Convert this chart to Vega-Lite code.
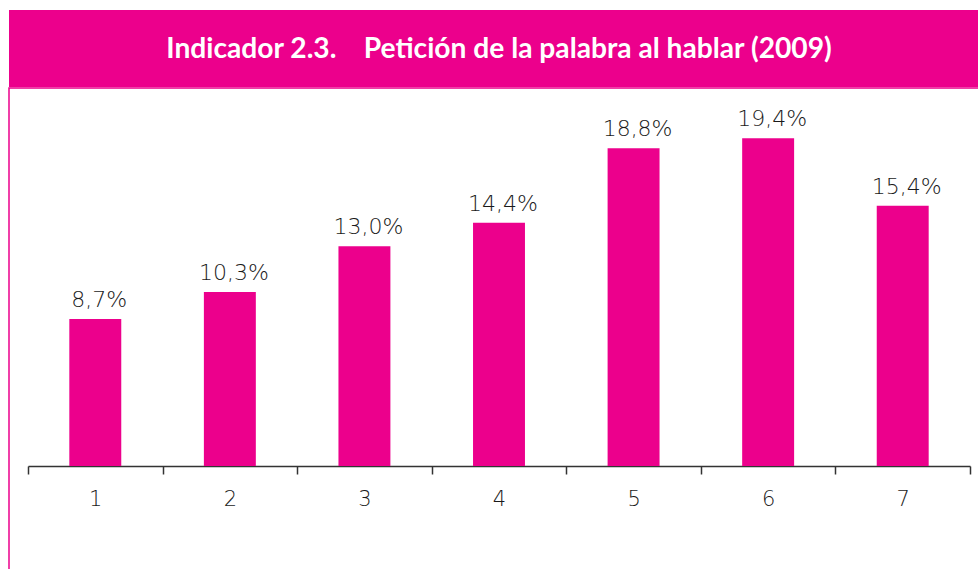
{
  "$schema": "https://vega.github.io/schema/vega-lite/v6.json",
  "padding": {"left": 8, "top": 10, "right": 0, "bottom": 0},
  "background": "white",
  "spacing": 0,
  "config": {"concat": {"spacing": 0}},
  "datasets": {
    "titulo": [{"texto": "Indicador 2.3.\u00a0\u00a0\u00a0 Petición de la palabra al hablar (2009)"}],
    "valores": [
      {"grupo": "1", "valor": 8.7, "etiqueta": "8,7%"},
      {"grupo": "2", "valor": 10.3, "etiqueta": "10,3%"},
      {"grupo": "3", "valor": 13.0, "etiqueta": "13,0%"},
      {"grupo": "4", "valor": 14.4, "etiqueta": "14,4%"},
      {"grupo": "5", "valor": 18.8, "etiqueta": "18,8%"},
      {"grupo": "6", "valor": 19.4, "etiqueta": "19,4%"},
      {"grupo": "7", "valor": 15.4, "etiqueta": "15,4%"}
    ]
  },
  "vconcat": [
    {
      "width": 970,
      "height": 77,
      "view": {"fill": "#EC008C", "stroke": null},
      "data": {"name": "titulo"},
      "mark": {"type": "text", "color": "white", "font": "Lato", "fontWeight": "bold", "fontSize": 28.2, "align": "center", "baseline": "middle", "dx": 5, "dy": 1},
      "encoding": {"text": {"field": "texto"}}
    },
    {
      "width": 970,
      "height": 482,
      "view": {"stroke": "#EC008C", "strokeWidth": 1.5, "fill": null},
      "data": {"name": "valores"},
      "encoding": {
        "x": {
          "field": "grupo",
          "type": "ordinal",
          "scale": {"range": [19, 961], "paddingInner": 0, "paddingOuter": 0},
          "axis": {
            "title": null,
            "orient": "bottom",
            "offset": -104,
            "labelAngle": 0,
            "labelFont": "DejaVu Sans",
            "labelFontWeight": 300,
            "labelFontSize": 21,
            "labelColor": "#1a1a1a",
            "labelPadding": 14,
            "domainColor": "#333333",
            "domainWidth": 1.5,
            "tickColor": "#333333",
            "tickWidth": 1.5,
            "tickSize": 8,
            "tickBand": "extent",
            "grid": false
          }
        },
        "y": {
          "field": "valor",
          "type": "quantitative",
          "scale": {"domain": [-6.15, 22.37], "nice": false, "zero": false},
          "axis": null
        }
      },
      "layer": [
        {"mark": {"type": "bar", "color": "#EC008C", "width": {"band": 0.386}}},
        {
          "mark": {"type": "text", "font": "DejaVu Sans", "fontWeight": 300, "fontSize": 22, "color": "#1a1a1a", "baseline": "alphabetic", "dy": -12, "dx": 4},
          "encoding": {"text": {"field": "etiqueta"}}
        }
      ]
    }
  ]
}
